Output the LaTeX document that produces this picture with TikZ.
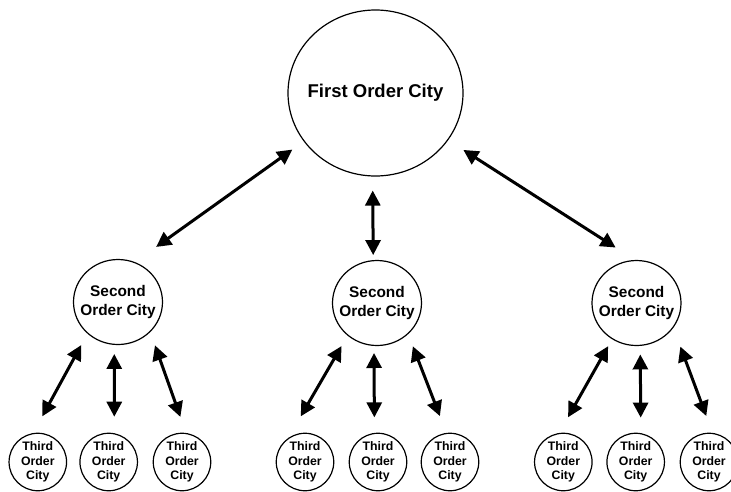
\documentclass[tikz,border=0pt]{standalone}
\usepackage{fontspec}
\setmainfont{Liberation Sans}
\usetikzlibrary{arrows.meta,shapes.geometric}
\begin{document}
\begin{tikzpicture}[x=1pt,y=-1pt,
  city/.style={draw, line width=1.2pt, ellipse, inner sep=0pt},
  first/.style={city, minimum width=175pt, minimum height=166pt},
  second/.style={city, minimum width=89pt, minimum height=85pt},
  third/.style={city, circle, minimum size=57.5pt},
  ftext/.style={inner sep=0pt, align=center, font=\fontsize{18.5}{22}\selectfont\bfseries},
  stext/.style={inner sep=0pt, align=center, font=\fontsize{15.4}{19}\selectfont\bfseries},
  ttext/.style={inner sep=0pt, align=center, font=\fontsize{12.3}{14.6}\selectfont\bfseries},
  link/.style={line width=3pt, arrows={Triangle[length=15pt,width=15pt]-Triangle[length=15pt,width=15pt]}}]
\useasboundingbox (0,0) rectangle (731,491);
\clip (0,0) rectangle (731,491);

\node[first, label={[ftext]center:First Order City}] (F) at (375.5,93) {};

\node[second, label={[stext]center:Second\\Order City}] (SL) at (118,302) {};
\node[second, label={[stext]center:Second\\Order City}] (SM) at (377,303) {};
\node[second, label={[stext]center:Second\\Order City}] (SR) at (636.5,303) {};

\node[third, label={[ttext]center:Third\\Order\\City}] (TL1) at (37.8,462) {};
\node[third, label={[ttext]center:Third\\Order\\City}] (TL2) at (108.7,462) {};
\node[third, label={[ttext]center:Third\\Order\\City}] (TL3) at (182,462) {};
\node[third, label={[ttext]center:Third\\Order\\City}] (TM1) at (305,462) {};
\node[third, label={[ttext]center:Third\\Order\\City}] (TM2) at (378,462) {};
\node[third, label={[ttext]center:Third\\Order\\City}] (TM3) at (450,462) {};
\node[third, label={[ttext]center:Third\\Order\\City}] (TR1) at (563.3,462) {};
\node[third, label={[ttext]center:Third\\Order\\City}] (TR2) at (635.7,462) {};
\node[third, label={[ttext]center:Third\\Order\\City}] (TR3) at (709,462) {};

\draw[link, shorten <=14pt, shorten >=26pt] (F.214) -- (SL.67);
\draw[link, shorten <=14pt, shorten >=5pt] (F.268.5) -- (SM.95);
\draw[link, shorten <=18pt, shorten >=23pt] (F.327) -- (SR.92);

\draw[link, shorten <=13pt, shorten >=19pt] (SL.226) -- (TL1.99);
\draw[link, shorten <=9pt, shorten >=16.5pt] (SL.265) -- (TL2.79);
\draw[link, shorten <=14pt, shorten >=17pt] (SL.317) -- (TL3.82);

\draw[link, shorten <=12pt, shorten >=25pt] (SM.228) -- (TM1.125);
\draw[link, shorten <=7pt, shorten >=15.5pt] (SM.266.4) -- (TM2.97.4);
\draw[link, shorten <=13pt, shorten >=18pt] (SM.315) -- (TM3.97);

\draw[link, shorten <=8pt, shorten >=18pt] (SR.236) -- (TR1.98);
\draw[link, shorten <=8.5pt, shorten >=15.5pt] (SR.275.5) -- (TR2.80);
\draw[link, shorten <=20pt, shorten >=18pt] (SR.326) -- (TR3.83);
\end{tikzpicture}
\end{document}
